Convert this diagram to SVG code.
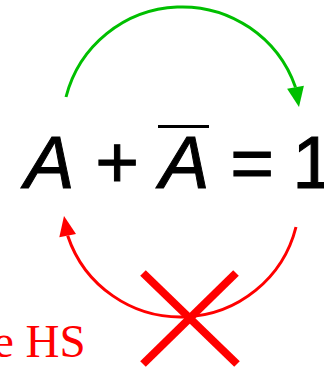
<svg xmlns="http://www.w3.org/2000/svg" width="324" height="367" viewBox="0 0 324 367">
  <style>
    .eq { font-family: "Liberation Sans", Arial, sans-serif; font-size: 75px; fill: #000; stroke: #000; stroke-width: 1; }
    .it { font-style: italic; }
    .lbl { font-family: "Liberation Serif", "Times New Roman", serif; font-size: 47px; fill: #ff0000; }
    .green { fill: none; stroke: #00bf00; stroke-width: 3; }
    .red { fill: none; stroke: #ff0000; stroke-width: 3; }
    .cross { stroke: #ff0000; stroke-width: 8; }
  </style>
  <rect width="324" height="367" fill="#ffffff"/>
  <g id="equation">
    <text class="eq" y="188"><tspan class="it" x="24.5">A </tspan><tspan x="95.2">+ </tspan><tspan class="it" x="159.5">A </tspan><tspan x="230.2">= </tspan><tspan x="292.3">1</tspan></text>
    <rect x="158" y="125" width="51" height="3" fill="#000"/>
  </g>
  <g id="label">
    <text class="lbl" x="-7" y="357">e HS</text>
  </g>
  <g id="connectors">
    <path class="green" d="M66,97 A120,120 0 0 1 295.5,87.3"/>
    <polygon fill="#00bf00" points="299,107 303.9,85.8 287.1,88.8"/>
    <path class="red" d="M296,227 A119,119 0 0 1 67.7,235.7"/>
    <polygon fill="#ff0000" points="64,216 76,234.1 59.3,237.2"/>
  </g>
  <g id="cross">
    <line class="cross" x1="143" y1="273" x2="237" y2="364"/>
    <line class="cross" x1="236" y1="273" x2="143" y2="364"/>
  </g>
</svg>
